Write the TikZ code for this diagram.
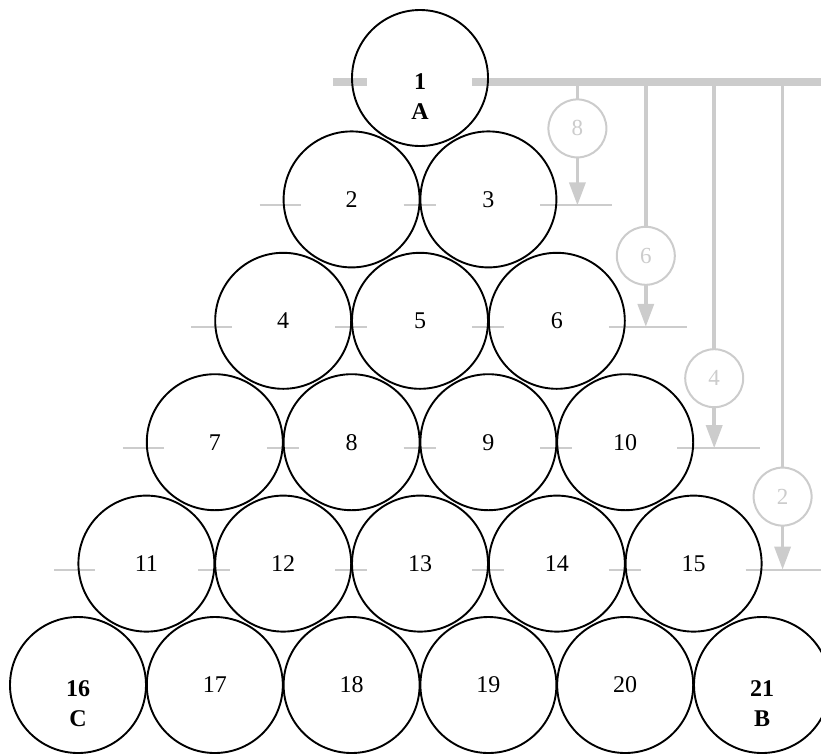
\documentclass[tikz,border=0pt]{standalone}
\usepackage{fontspec}
\setmainfont{Liberation Serif}
\usetikzlibrary{arrows.meta, calc}
\definecolor{guidegray}{HTML}{CCCCCC}

\begin{document}
\begin{tikzpicture}[
    x=1pt, y=-1pt,
    ball/.style={circle, fill=white, minimum size=136pt, inner sep=0pt, outer sep=0pt},
    rim/.style={draw=black, line width=1.9pt},
    num/.style={font=\fontsize{24}{30}\selectfont},
    bignum/.style={font=\fontsize{24}{30}\selectfont\bfseries, align=center},
    tick/.style={guidegray, line width=2pt},
    rail/.style={guidegray, line width=8pt},
    stem/.style={guidegray, line width=3.5pt},
    drop/.style={guidegray, line width=3.5pt, -{Triangle[length=23pt, width=16pt]}},
    tag/.style={circle, draw=guidegray, line width=2pt, fill=white, minimum size=58pt,
        inner sep=0pt, outer sep=0pt, text=guidegray, font=\fontsize{23}{23}\selectfont},
]
    \useasboundingbox (0,0) rectangle (821,753);
    \clip (0,0) rectangle (821,753);

    % Balls (fill only, rims later)
    \foreach \r in {1,...,6}
        \foreach \j in {1,...,\r} {
            \pgfmathtruncatemacro\n{\r*(\r-1)/2+\j}
            \node[ball] (c\n) at ({420+(\j-(\r+1)/2)*136.8}, {78+(\r-1)*121.4}) {};
        }

    % Top rail
    \coordinate (rail) at ($(c1.east)+(0,4)$);
    \draw[rail] ($(c1.west)+(-19,4)$) -- ($(c1.west)+(15,4)$);
    \draw[rail] ($(rail)+(-16,0)$) -- ++(400,0);

    % Level ticks
    \foreach \r/\e in {2/56,3/62,4/67,5/70} {
        \pgfmathtruncatemacro\a{\r*(\r-1)/2+1}
        \pgfmathtruncatemacro\b{\r*(\r+1)/2-1}
        \pgfmathtruncatemacro\m{\r*(\r+1)/2}
        \draw[tick] ($(c\a.west)+(-24,6)$) -- ($(c\a.west)+(17,6)$);
        \foreach \k in {\a,...,\b}
            \draw[tick] ($(c\k.east)+(-16,6)$) -- ($(c\k.east)+(16,6)$);
        \draw[tick] ($(c\m.east)+(-16,6)$) -- ($(c\m.east)+(\e,6)$);
        \coordinate (h\r) at ($(c\m.east)+(21,6)$);
    }

    % Rims
    \foreach \n in {1,...,21}
        \draw[rim] (c\n.center) circle[radius=68pt];

    % Drops
    \foreach \r/\u in {2/77,3/71,4/70,5/73} {
        \pgfmathtruncatemacro\v{2*(6-\r)}
        \node[tag] (g\r) at ($(h\r)+(0,-\u)$) {\v};
        \draw[stem] (g\r.north) -- (g\r.north |- rail);
        \draw[drop] (g\r.south) -- (h\r);
    }

    % Labels
    \foreach \n in {2,...,15,17,18,19,20}
        \node[num] (t\n) at (c\n) {\n};
    \node[bignum] (tA) at ($(c1)+(0,19)$) {1\\A};
    \node[bignum] (tC) at ($(c16)+(0,19)$) {16\\C};
    \node[bignum] (tB) at ($(c21)+(0,19)$) {21\\B};
\end{tikzpicture}
\end{document}
